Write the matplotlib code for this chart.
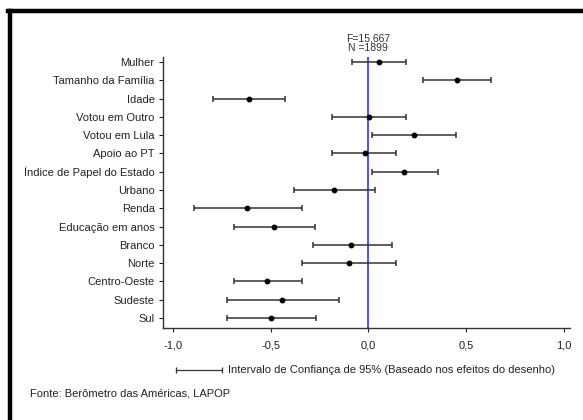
import matplotlib
matplotlib.use("Agg")
import matplotlib.pyplot as plt
from matplotlib.lines import Line2D
from matplotlib.ticker import FuncFormatter

plt.rcParams["font.family"] = ["Liberation Sans", "DejaVu Sans"]

# Coeficientes e intervalos de confiança
variables = ["Mulher", "Tamanho da Família", "Idade", "Votou em Outro", "Votou em Lula",
             "Apoio ao PT", "Índice de Papel do Estado", "Urbano", "Renda",
             "Educação em anos", "Branco", "Norte", "Centro-Oeste", "Sudeste", "Sul"]
coef = [0.055, 0.452, -0.609, 0.003, 0.234, -0.019, 0.184, -0.175, -0.622,
        -0.484, -0.089, -0.101, -0.517, -0.441, -0.498]
ci_low = [-0.083, 0.280, -0.793, -0.184, 0.020, -0.184, 0.020, -0.382, -0.892,
          -0.685, -0.283, -0.339, -0.685, -0.723, -0.723]
ci_high = [0.194, 0.627, -0.428, 0.194, 0.448, 0.143, 0.354, 0.034, -0.339,
           -0.271, 0.119, 0.143, -0.339, -0.148, -0.266]
xticks = [-1.0, -0.5, 0.0, 0.5, 1.0]

fig = plt.figure(figsize=(5.83, 4.2), dpi=100)
ax = fig.add_axes([0.2796, 0.219, 0.698, 0.645])

ypos = list(range(len(variables)))
err = [[c - l for c, l in zip(coef, ci_low)], [h - c for c, h in zip(coef, ci_high)]]
ax.axvline(0, color="#2020e0", lw=1.1, zorder=1)
ax.errorbar(coef, ypos, xerr=err, fmt="o", color="black", ecolor="#333333",
            elinewidth=1.1, capsize=2.5, capthick=1.1, markersize=3.2, zorder=3)

ax.set_yticks(ypos)
ax.set_yticklabels(variables, fontsize=8)
ax.set_ylim(len(variables) - 0.45, -0.27)
ax.set_xlim(-1.05, 1.03)
ax.set_xticks(xticks)
ax.xaxis.set_major_formatter(FuncFormatter(lambda v, p: f"{v:.1f}".replace(".", ",")))
ax.tick_params(axis="x", labelsize=8, length=3, width=0.8, pad=6, colors="#222222")
ax.tick_params(axis="y", length=3, width=0.8, pad=3, colors="#222222")
for s in ["top", "right"]:
    ax.spines[s].set_visible(False)
for s in ["left", "bottom"]:
    ax.spines[s].set_linewidth(1.0)
    ax.spines[s].set_color("#333333")

ax.text(0, 1.015, "F=15,667\nN =1899", transform=ax.get_xaxis_transform(),
        ha="center", va="bottom", fontsize=7.5, color="#333333", linespacing=1.0)

# legenda do intervalo
fig.add_artist(Line2D([0.302, 0.381], [0.119, 0.119], color="#333333", lw=0.9,
                      marker="|", markersize=5, markeredgewidth=0.9))
fig.text(0.391, 0.119, "Intervalo de Confiança de 95% (Baseado nos efeitos do desenho)",
         va="center", fontsize=8, color="#222222")
fig.text(0.051, 0.064, "Fonte: Berômetro das Américas, LAPOP", va="center",
         fontsize=8, color="#222222")

# moldura
fig.add_artist(Line2D([0.0165, 0.0165], [0.0, 0.974], color="black", lw=3.2))
fig.add_artist(Line2D([0.013, 1.0], [0.974, 0.974], color="black", lw=3.2))

plt.savefig("out.png", dpi=100)
